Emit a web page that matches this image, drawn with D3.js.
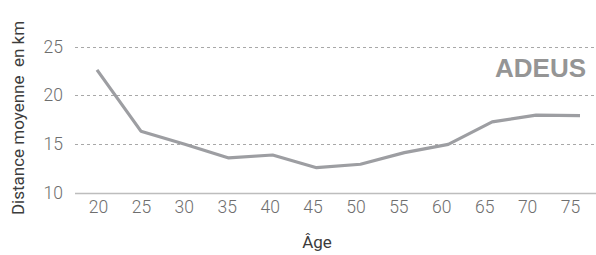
<!DOCTYPE html>
<html>
<head>
<meta charset="utf-8">
<script src="https://cdn.jsdelivr.net/npm/d3@7"></script>
<style>
  body { margin: 0; background: #fff; }
  svg { display: block; }
</style>
</head>
<body>
<div id="chart"></div>
<script>
// Data
const ages = [20, 25, 30, 35, 40, 45, 50, 55, 60, 65, 70, 75];
const distances = [22.6, 16.3, 14.95, 13.55, 13.85, 12.55, 12.9, 14.1, 14.95, 17.25, 17.95, 17.9];
const yTicks = [10, 15, 20, 25];

const width = 596, height = 255;

const svg = d3.select("#chart")
    .append("svg")
    .attr("width", width)
    .attr("height", height);

// Scales
const x = d3.scalePoint().domain(ages).range([97, 580]);
const xLabels = d3.scalePoint().domain(ages).range([98, 570]);
const y = d3.scaleLinear().domain([10, 25]).range([192.5, 46.5]);

// Gridlines
svg.append("g")
    .selectAll("line")
    .data(yTicks)
    .enter()
    .append("line")
    .attr("x1", 75)
    .attr("x2", width)
    .attr("y1", d => Math.round(y(d)) + 0.5)
    .attr("y2", d => Math.round(y(d)) + 0.5)
    .attr("stroke", d => d === 10 ? "#bdbdbd" : "#a8a8a8")
    .attr("stroke-width", d => d === 10 ? 1.5 : 1)
    .attr("stroke-dasharray", d => d === 10 ? null : "3,3");

// Y axis labels
const yAxis = svg.append("g")
    .attr("transform", "translate(63,0)")
    .call(d3.axisLeft(y).tickValues(yTicks).tickSize(0).tickPadding(0));
yAxis.select(".domain").remove();
yAxis.selectAll(".tick text")
    .attr("fill", "#6e6e6e")
    .style("font-family", "Roboto, 'Liberation Sans', sans-serif")
    .style("font-weight", 300)
    .style("font-size", "17.5px");

// X axis labels
const xAxis = svg.append("g")
    .attr("transform", "translate(0,201)")
    .call(d3.axisBottom(xLabels).tickSize(0).tickPadding(0));
xAxis.select(".domain").remove();
xAxis.selectAll(".tick text")
    .attr("fill", "#6e6e6e")
    .style("font-family", "Roboto, 'Liberation Sans', sans-serif")
    .style("font-weight", 300)
    .style("font-size", "17.5px");

// Line
const line = d3.line()
    .x((d, i) => x(ages[i]))
    .y(d => y(d));

svg.append("path")
    .datum(distances)
    .attr("fill", "none")
    .attr("stroke", "#9d9ea2")
    .attr("stroke-width", 3.2)
    .attr("stroke-linejoin", "round")
    .attr("d", line);

// Axis titles
svg.append("text")
    .attr("x", 317)
    .attr("y", 248)
    .attr("text-anchor", "middle")
    .attr("fill", "#3c3c3c")
    .style("font-family", "Roboto, 'Liberation Sans', sans-serif")
    .style("font-size", "17px")
    .text("Âge");

svg.append("text")
    .attr("transform", "translate(24,118)rotate(-90)")
    .attr("text-anchor", "middle")
    .attr("fill", "#3c3c3c")
    .style("font-family", "Roboto, 'Liberation Sans', sans-serif")
    .style("font-size", "17px")
    .style("white-space", "pre")
    .text("Distance moyenne  en km");

// Logo
svg.append("text")
    .attr("x", 586)
    .attr("y", 77)
    .attr("text-anchor", "end")
    .attr("fill", "#959595")
    .style("font-family", "'Liberation Sans', Arial, sans-serif")
    .style("font-weight", "bold")
    .style("font-size", "26px")
    .text("ADEUS");
</script>
</body>
</html>
